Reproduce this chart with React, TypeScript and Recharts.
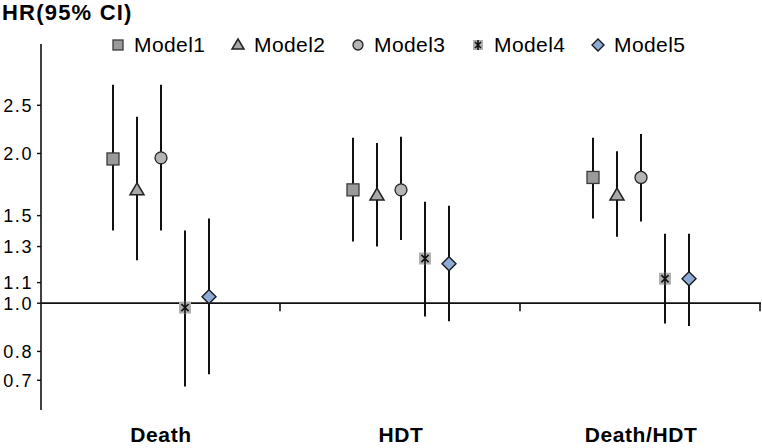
import React from "react";
import {
  ComposedChart,
  Scatter,
  XAxis,
  YAxis,
  ErrorBar,
  ReferenceLine,
  Legend,
} from "recharts";

const FONT = '"Liberation Sans", Arial, Helvetica, sans-serif';

const categories = ["Death", "HDT", "Death/HDT"];
const models = ["Model1", "Model2", "Model3", "Model4", "Model5"];
const yTicks = [0.7, 0.8, 1.0, 1.1, 1.3, 1.5, 2.0, 2.5];

// hazard ratio, one row per model, one column per outcome
const hr = [
  [1.95, 1.69, 1.79],
  [1.69, 1.65, 1.65],
  [1.96, 1.69, 1.79],
  [0.98, 1.23, 1.12],
  [1.03, 1.2, 1.12],
];
const ciLow = [
  [1.4, 1.33, 1.48],
  [1.22, 1.3, 1.36],
  [1.4, 1.34, 1.46],
  [0.68, 0.94, 0.91],
  [0.72, 0.92, 0.9],
];
const ciHigh = [
  [2.75, 2.15, 2.15],
  [2.37, 2.1, 2.02],
  [2.75, 2.16, 2.19],
  [1.4, 1.6, 1.38],
  [1.48, 1.57, 1.38],
];

interface MarkerProps {
  kind: number;
  cx: number;
  cy: number;
  r?: number;
}

function Marker({ kind, cx, cy, r = 6 }: MarkerProps) {
  if (kind === 0) {
    return (
      <rect x={cx - r} y={cy - r} width={2 * r} height={2 * r}
        fill="#9a9a9a" stroke="#3a3a3a" strokeWidth={1.3} />
    );
  }
  if (kind === 1) {
    return (
      <polygon
        points={`${cx},${cy - r - 1} ${cx + r + 1},${cy + r - 1} ${cx - r - 1},${cy + r - 1}`}
        fill="#a8a8a8" stroke="#222" strokeWidth={1.5} />
    );
  }
  if (kind === 2) {
    return <circle cx={cx} cy={cy} r={r} fill="#b4b4b4" stroke="#222" strokeWidth={1.3} />;
  }
  if (kind === 3) {
    const k = r * 0.6;
    return (
      <g>
        <rect x={cx - r} y={cy - r} width={2 * r} height={2 * r} fill="#b0b0b0" />
        <path
          d={`M${cx - k},${cy - k}L${cx + k},${cy + k}M${cx + k},${cy - k}L${cx - k},${cy + k}M${cx},${cy - r}L${cx},${cy + r}`}
          stroke="#111" strokeWidth={1.6} />
      </g>
    );
  }
  return (
    <polygon
      points={`${cx},${cy - r - 1} ${cx + r + 1},${cy} ${cx},${cy + r + 1} ${cx - r - 1},${cy}`}
      fill="#8eaad6" stroke="#1a1a1a" strokeWidth={1.4} />
  );
}

function BaseLine(props: any) {
  const { x1, y1, x2, y2 } = props;
  const w = x2 - x1;
  const marks = categories.map((_, i) => x1 + (w * (i + 1)) / categories.length - 1);
  return (
    <g>
      <line x1={x1} y1={y1} x2={x2} y2={y2} stroke="#111" strokeWidth={1.8} />
      {marks.map((tx) => (
        <line key={tx} x1={tx} x2={tx} y1={y1} y2={y1 + 8} stroke="#111" strokeWidth={1.6} />
      ))}
    </g>
  );
}

function CategoryTick(props: any) {
  const { x, y, payload } = props;
  return (
    <text x={x} y={y} dy={24} textAnchor="middle" fontFamily={FONT}
      fontSize={21} fontWeight="bold" letterSpacing={0.6} fill="#000">
      {categories[Math.floor(payload.value)]}
    </text>
  );
}

function ValueTick(props: any) {
  const { x, y, payload } = props;
  return (
    <text x={x} y={y} dy={6.5} textAnchor="end" fontFamily={FONT}
      fontSize={18} letterSpacing={1.6} fill="#000">
      {payload.value.toFixed(1)}
    </text>
  );
}

function LegendContent() {
  return (
    <div style={{ display: "flex", fontFamily: FONT, fontSize: 21, color: "#000", letterSpacing: 0.4 }}>
      {models.map((m, j) => (
        <div key={m} style={{ display: "flex", alignItems: "center", width: 120 }}>
          <svg width={16} height={16}>
            <Marker kind={j} cx={8} cy={8} r={5} />
          </svg>
          <span style={{ marginLeft: 8 }}>{m}</span>
        </div>
      ))}
    </div>
  );
}

export default function App() {
  const series = models.map((m, j) =>
    categories.map((c, i) => ({
      x: i + 0.5 + (j - 2) * 0.1,
      y: hr[j][i],
      err: [hr[j][i] - ciLow[j][i], ciHigh[j][i] - hr[j][i]],
    }))
  );

  return (
    <div style={{ position: "absolute", left: 0, top: 0, width: 762, height: 448, background: "#fff" }}>
      <div
        style={{
          position: "absolute", left: 2, top: 1, fontFamily: FONT, fontSize: 22,
          fontWeight: "bold", letterSpacing: 1.2, lineHeight: "24px", zIndex: 2,
        }}
      >
        HR(95% CI)
      </div>
      <ComposedChart width={762} height={448} margin={{ top: 44, right: 1, bottom: 8, left: 0 }}>
        <XAxis
          type="number"
          dataKey="x"
          domain={[0, 3]}
          ticks={[0.5, 1.5, 2.5]}
          axisLine={false}
          tickLine={false}
          tickMargin={2}
          height={30}
          tick={<CategoryTick />}
        />
        <YAxis
          type="number"
          dataKey="y"
          scale="log"
          domain={[0.61, 3.32]}
          allowDataOverflow
          ticks={yTicks}
          interval={0}
          width={41}
          tickSize={4}
          tickMargin={4}
          axisLine={{ stroke: "#111", strokeWidth: 1.6 }}
          tickLine={{ stroke: "#111", strokeWidth: 1.4 }}
          tick={<ValueTick />}
        />
        <ReferenceLine y={1} shape={BaseLine} ifOverflow="extendDomain" />
        <Legend
          layout="horizontal"
          align="center"
          verticalAlign="middle"
          content={<LegendContent />}
          wrapperStyle={{ top: 33, left: 110, width: 620, height: 26 }}
        />
        {models.map((m, j) => (
          <Scatter
            key={`ci-${m}`}
            data={series[j]}
            isAnimationActive={false}
            shape={() => <g />}
            legendType="none"
          >
            <ErrorBar dataKey="err" direction="y" width={0} stroke="#111" strokeWidth={2} />
          </Scatter>
        ))}
        {models.map((m, j) => (
          <Scatter
            key={m}
            name={m}
            data={series[j]}
            isAnimationActive={false}
            shape={(p: any) => <Marker kind={j} cx={p.cx} cy={p.cy} />}
          />
        ))}
      </ComposedChart>
    </div>
  );
}
